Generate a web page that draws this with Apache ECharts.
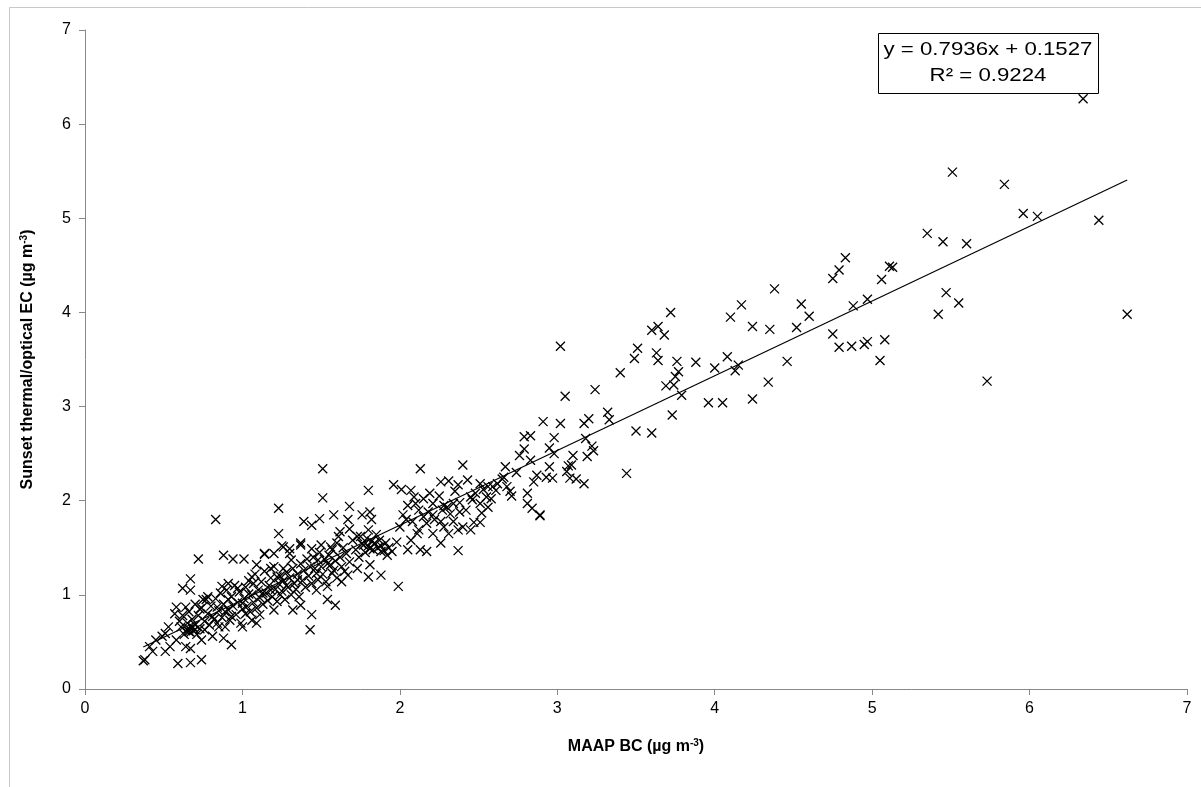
<!DOCTYPE html>
<html>
<head>
<meta charset="utf-8">
<script src="https://cdn.jsdelivr.net/npm/echarts@6/dist/echarts.min.js"></script>
<style>
  html, body { margin: 0; padding: 0; background: #fff; }
  #chart { width: 1201px; height: 787px; }
</style>
</head>
<body>
<div id="chart"></div>
<script>
// MAAP BC (x) vs Sunset EC (y)
var maapBC = [
  6.34, 5.51, 5.84, 5.96, 6.05, 6.44, 5.35, 5.45, 5.60, 5.11, 5.13, 5.06, 5.47, 5.55, 5.42, 6.62, 5.08, 5.05, 5.73,
  4.83, 4.79, 4.75, 4.38, 4.17, 4.10, 4.55, 4.60, 4.88, 4.97, 4.24, 4.35, 4.52, 4.75, 4.79, 4.87, 4.95, 4.97,
  3.72, 3.60, 3.64, 3.68, 3.51, 3.49, 3.63, 3.64, 3.76, 3.88, 4.00, 4.08, 4.15, 4.13, 4.46, 3.40, 3.77, 3.75,
  3.69, 3.74, 3.79, 3.24, 3.05, 4.34, 4.24, 3.96, 4.05, 3.73, 3.32, 3.33, 3.20, 3.17, 3.02, 3.50, 3.60, 3.18,
  3.22, 3.10, 3.19, 3.23, 3.07, 3.09, 3.06, 3.08, 3.12, 3.17, 3.44, 3.02,
  2.91, 2.79, 2.83, 2.98, 2.79, 2.76, 2.95, 2.98, 2.83, 2.67, 2.95, 2.87, 2.93, 2.97, 2.85, 2.13, 2.40, 2.65,
  2.68, 2.71, 2.81, 2.81, 2.84, 2.89, 2.89, 2.59, 2.61, 2.51, 2.56, 2.43, 2.37, 2.31, 2.26, 2.45, 2.46, 2.51,
  2.56, 2.52, 2.51, 2.45, 2.40, 2.38, 2.34, 2.30, 2.27, 2.21, 2.19, 2.09, 2.07, 2.10, 2.15, 2.21, 2.26, 2.28,
  2.34, 2.37, 2.17, 2.12, 2.04, 2.00, 2.07, 2.05, 2.13, 2.17, 2.26, 2.37, 2.11, 2.21, 2.31, 2.47, 2.55,
  1.51, 1.51, 1.23, 1.23, 1.68, 1.80, 1.96, 2.01, 1.39, 1.44, 1.49, 1.58, 1.67, 1.76, 1.81, 1.82, 1.68, 1.62,
  1.80, 1.85, 1.37, 1.26, 1.14, 1.09, 1.18, 1.22, 1.30, 1.37, 1.44, 1.50, 1.56, 1.61, 1.73, 1.77, 1.81, 1.88,
  1.92, 1.95, 1.98, 1.99, 1.88, 1.80, 1.81, 1.73, 1.67, 1.63, 1.57, 1.54, 1.48, 1.43, 1.47, 1.54, 1.47, 1.54,
  1.59, 1.35, 1.28, 1.37, 1.32, 1.44, 1.43, 1.20, 1.11, 1.09, 1.13, 1.07, 1.24, 1.18, 1.26, 1.31,
  0.83, 0.72, 0.88, 0.94, 1.01, 0.67, 0.62, 0.67, 0.58, 0.64, 0.78, 0.73, 0.68, 0.70, 0.66, 0.61, 0.53, 0.51,
  0.45, 0.41, 0.43, 0.51, 0.54, 0.58, 0.64, 0.67, 0.37, 0.38, 0.59, 0.67, 0.74, 0.93, 0.88, 0.85, 0.81, 0.89,
  0.93, 1.00, 1.02, 1.06, 1.00, 0.91, 0.87, 0.91, 0.97, 1.06, 1.04, 0.75, 0.57, 0.49, 0.81, 0.74, 0.76, 0.84,
  1.14, 1.20, 1.25, 1.30, 1.37,
  0.60, 0.62, 0.65, 0.66, 0.68, 0.70, 0.70, 0.72, 0.73, 0.74, 0.76, 0.77, 0.78, 0.79, 0.80, 0.82, 0.83, 0.84,
  0.85, 0.86, 0.87, 0.88, 0.89, 0.90, 0.91, 0.92, 0.93, 0.94, 0.95, 0.96, 0.97, 0.98, 0.99, 1.00, 0.66, 0.67,
  0.69, 0.71, 0.64, 0.63,
  1.01, 1.02, 1.03, 1.04, 1.05, 1.06, 1.07, 1.08, 1.09, 1.10, 1.11, 1.12, 1.13, 1.14, 1.15, 1.16, 1.17, 1.18,
  1.19, 1.20, 1.21, 1.22, 1.23, 1.24, 1.25, 1.26, 1.27, 1.28, 1.29, 1.30, 1.31, 1.32, 1.33, 1.34, 1.35, 1.36,
  1.38, 1.39, 1.40, 1.41,
  1.42, 1.44, 1.45, 1.46, 1.48, 1.49, 1.50, 1.51, 1.52, 1.53, 1.55, 1.56, 1.57, 1.58, 1.59, 1.60, 1.62, 1.63,
  1.64, 1.66, 1.68, 1.70, 1.72, 1.74, 1.75, 1.76, 1.78, 1.79, 1.80, 1.82, 1.83, 1.84, 1.86, 1.87, 1.88, 1.90,
  1.91, 1.93, 1.60, 1.65,
  2.02, 2.05, 2.08, 2.12, 2.15, 2.18, 2.22, 2.25, 2.28, 2.32, 2.35, 2.38, 2.42, 2.48, 2.53, 2.58, 2.62, 2.66,
  2.70, 2.74
];
var sunsetEC = [
  6.27, 5.49, 5.36, 5.05, 5.02, 4.98, 4.84, 4.75, 4.73, 4.49, 4.48, 4.35, 4.21, 4.10, 3.98, 3.98, 3.71, 3.49, 3.27,
  4.58, 4.45, 4.36, 4.25, 4.08, 3.95, 4.09, 3.96, 4.07, 4.14, 3.85, 3.82, 3.84, 3.77, 3.63, 3.64, 3.66, 3.69,
  4.00, 3.81, 3.85, 3.76, 3.62, 3.51, 3.57, 3.49, 3.48, 3.47, 3.41, 3.53, 3.44, 3.38, 3.48, 3.36, 3.37, 3.32,
  3.22, 3.23, 3.12, 3.18, 3.11, 3.26, 3.08, 3.04, 3.04, 2.91, 2.94, 2.86, 2.87, 2.82, 2.82, 2.74, 2.72, 2.66,
  2.58, 2.48, 2.47, 2.53, 2.37, 2.38, 2.31, 2.24, 2.23, 2.18, 2.29, 3.64,
  2.84, 2.68, 2.69, 2.67, 2.55, 2.48, 2.56, 2.50, 2.43, 2.36, 2.36, 2.27, 2.25, 2.24, 2.20, 2.34, 2.38, 2.23,
  2.15, 2.05, 2.08, 1.97, 1.92, 1.85, 1.84, 2.15, 2.11, 2.18, 2.15, 2.22, 2.17, 2.21, 2.20, 2.04, 2.01, 1.97,
  1.93, 1.87, 1.77, 1.69, 1.72, 1.88, 1.97, 1.93, 1.90, 1.97, 2.08, 2.04, 2.11, 1.97, 1.83, 1.85, 1.78, 1.72,
  1.78, 1.69, 1.76, 1.69, 1.80, 1.72, 1.58, 1.48, 1.48, 1.46, 1.55, 1.47, 1.65, 1.65, 1.65, 1.77, 2.04,
  2.34, 2.03, 1.92, 1.65, 1.94, 2.11, 2.17, 2.12, 1.78, 1.74, 1.81, 1.85, 1.80, 1.85, 1.88, 1.80, 1.70, 1.67,
  1.69, 1.64, 1.53, 1.51, 1.44, 1.32, 1.28, 1.19, 1.44, 1.33, 1.49, 1.53, 1.51, 1.62, 1.62, 1.53, 1.49, 1.46,
  1.42, 1.46, 1.56, 1.09, 1.21, 1.19, 1.32, 1.28, 1.21, 1.14, 1.23, 1.33, 1.37, 1.30, 1.23, 1.09, 1.05, 0.95,
  0.89, 1.16, 1.10, 0.89, 0.84, 0.79, 0.63, 0.84, 0.79, 0.70, 1.02, 1.12, 1.00, 1.05, 1.28, 1.37,
  1.80, 1.38, 1.42, 1.38, 1.38, 1.17, 1.07, 1.05, 0.87, 0.87, 0.98, 0.85, 0.66, 0.63, 0.61, 0.66, 0.66, 0.59,
  0.52, 0.45, 0.40, 0.40, 0.45, 0.52, 0.45, 0.43, 0.30, 0.31, 0.27, 0.28, 0.31, 0.47, 0.54, 0.66, 0.77, 0.82,
  0.77, 0.66, 0.80, 0.73, 0.91, 0.95, 1.09, 1.12, 1.07, 1.19, 1.01, 0.95, 0.80, 0.56, 0.56, 0.52, 0.63, 0.87,
  1.43, 1.44, 1.52, 1.49, 1.55,
  0.72, 0.78, 0.70, 0.82, 0.74, 0.68, 0.90, 0.78, 0.64, 0.86, 0.72, 0.95, 0.80, 0.68, 0.88, 0.74, 0.96, 0.70,
  0.83, 1.02, 0.76, 0.90, 0.66, 1.05, 0.84, 0.73, 0.98, 0.88, 1.10, 0.79, 0.92, 1.03, 0.70, 0.85, 0.64, 0.60,
  0.62, 0.58, 0.62, 0.58,
  0.96, 1.08, 0.88, 1.15, 0.82, 1.00, 0.92, 1.22, 0.86, 1.05, 0.97, 1.14, 0.90, 1.25, 1.02, 0.94, 1.10, 1.18,
  0.98, 1.30, 1.06, 0.93, 1.12, 1.20, 1.04, 1.15, 0.95, 1.24, 1.08, 1.18, 1.00, 1.28, 1.12, 1.06, 1.22, 0.98,
  1.15, 1.26, 1.08, 1.38,
  1.20, 1.12, 1.40, 1.28, 1.16, 1.45, 1.30, 1.22, 1.38, 1.14, 1.42, 1.32, 1.48, 1.26, 1.36, 1.55, 1.40, 1.30,
  1.50, 1.44, 1.35, 1.58, 1.48, 1.40, 1.62, 1.54, 1.45, 1.60, 1.52, 1.57, 1.48, 1.55, 1.50, 1.58, 1.52, 1.47,
  1.55, 1.50, 1.18, 1.25,
  1.85, 1.95, 1.78, 1.90, 2.02, 1.88, 1.80, 2.05, 1.95, 1.86, 2.10, 1.98, 1.90, 2.08, 2.12, 2.02, 2.18, 2.25,
  2.10, 2.30
];
var xTicks = [0, 1, 2, 3, 4, 5, 6, 7];
var yTicks = [0, 1, 2, 3, 4, 5, 6, 7];
var slope = 0.7936;
var intercept = 0.1527;
var rSquared = 0.9224;

var points = maapBC.map(function (x, i) { return [x, sunsetEC[i]]; });
var xMin = Math.min.apply(null, maapBC);
var xMax = Math.max.apply(null, maapBC);
var trend = [[xMin, slope * xMin + intercept], [xMax, slope * xMax + intercept]];

var chart = echarts.init(document.getElementById('chart'));

var axisGrey = '#888888';
var font = 'Liberation Sans, Arial, sans-serif';

var option = {
  animation: false,
  backgroundColor: '#ffffff',
  grid: { left: 85, right: 14, top: 30, bottom: 98 },
  xAxis: {
    type: 'value',
    min: xTicks[0],
    max: xTicks[xTicks.length - 1],
    interval: 1,
    name: 'MAAP BC (µg m{sup|-3})',
    nameLocation: 'middle',
    nameGap: 49,
    nameTextStyle: {
      fontFamily: font, fontSize: 16, fontWeight: 'bold', color: '#000',
      rich: { sup: { fontSize: 10, fontWeight: 'bold', verticalAlign: 'top', padding: [0, 0, 8, 0] } }
    },
    axisLine: { lineStyle: { color: axisGrey, width: 1 } },
    axisTick: { show: true, length: 6, lineStyle: { color: axisGrey } },
    axisLabel: { fontFamily: font, fontSize: 16, color: '#000', margin: 12 },
    splitLine: { show: false }
  },
  yAxis: {
    type: 'value',
    min: yTicks[0],
    max: yTicks[yTicks.length - 1],
    interval: 1,
    name: 'Sunset thermal/optical EC (µg m{sup|-3})',
    nameLocation: 'middle',
    nameGap: 48,
    nameTextStyle: {
      fontFamily: font, fontSize: 16, fontWeight: 'bold', color: '#000',
      rich: { sup: { fontSize: 10, fontWeight: 'bold', verticalAlign: 'top', padding: [0, 0, 8, 0] } }
    },
    axisLine: { show: true, lineStyle: { color: axisGrey, width: 1 } },
    axisTick: { show: true, length: 6, lineStyle: { color: axisGrey } },
    axisLabel: { fontFamily: font, fontSize: 16, color: '#000', margin: 14 },
    splitLine: { show: false }
  },
  graphic: [
    {
      type: 'rect',
      shape: { x: 9.5, y: 7.5, width: 1400, height: 1000 },
      style: { fill: 'none', stroke: '#c8c8c8', lineWidth: 1 },
      silent: true, z: -10
    },
    {
      type: 'rect',
      shape: { x: 878.5, y: 33.5, width: 220, height: 60 },
      style: { fill: '#fff', stroke: '#000', lineWidth: 1 },
      z: 100
    },
    {
      type: 'text',
      x: 988, y: 50, scaleX: 1.17,
      style: {
        text: 'y = ' + slope.toFixed(4) + 'x + ' + intercept.toFixed(4),
        font: '19px ' + font, fill: '#000', align: 'center', verticalAlign: 'middle'
      },
      z: 101
    },
    {
      type: 'text',
      x: 988, y: 76, scaleX: 1.17,
      style: {
        text: 'R² = ' + rSquared.toFixed(4),
        font: '19px ' + font, fill: '#000', align: 'center', verticalAlign: 'middle'
      },
      z: 101
    }
  ],
  series: [
    {
      name: 'EC',
      type: 'scatter',
      data: points,
      symbol: 'path://M0,0L10,10M10,0L0,10',
      symbolSize: 9,
      itemStyle: { color: 'none', borderColor: '#000', borderWidth: 1.3, opacity: 1 },
      emphasis: { disabled: true },
      z: 3
    },
    {
      name: 'Linear fit',
      type: 'line',
      data: trend,
      symbol: 'none',
      lineStyle: { color: '#000', width: 1.2 },
      z: 4
    }
  ]
};

chart.setOption(option);
</script>
</body>
</html>
